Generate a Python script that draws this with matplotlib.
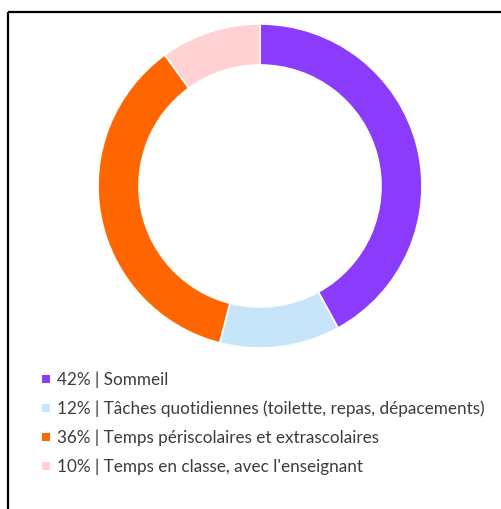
import matplotlib.pyplot as plt
from matplotlib.patches import Rectangle

# data
shares = [42, 12, 36, 10]
names = ["Sommeil",
         "Tâches quotidiennes (toilette, repas, dépacements)",
         "Temps périscolaires et extrascolaires",
         "Temps en classe, avec l'enseignant"]
colors = ["#8a3bfc", "#c6e5fa", "#ff6600", "#ffd1d3"]

W, H = 502, 510
fig = plt.figure(figsize=(W / 100, H / 100), dpi=100)
ax = fig.add_axes([0, 0, 1, 1])

# y axis is flipped (pixel coords), so -90 is the top and ccw looks clockwise
ax.pie(shares, colors=colors, startangle=-90, counterclock=True,
       center=(260, 187), radius=162,
       wedgeprops=dict(width=41, edgecolor="white", linewidth=1.2))

# frame (only top and left visible in the crop)
ax.add_patch(Rectangle((8, 13), 600, 600, fill=False, edgecolor="black",
                       linewidth=1.6))

# legend
y0, dy = 380, 29
for i, (s, n, c) in enumerate(zip(shares, names, colors)):
    y = y0 + i * dy
    ax.scatter([46], [y], marker="s", s=32, color=c, linewidths=0)
    ax.text(57, y, f"{s}% | {n}", fontsize=12.3, family="Lato",
            color="#3c3c3c", va="center", ha="left")

ax.set_xlim(0, W)
ax.set_ylim(H, 0)
ax.set_aspect("auto")
ax.axis("off")

fig.savefig("out.png", dpi=100, facecolor="white")
